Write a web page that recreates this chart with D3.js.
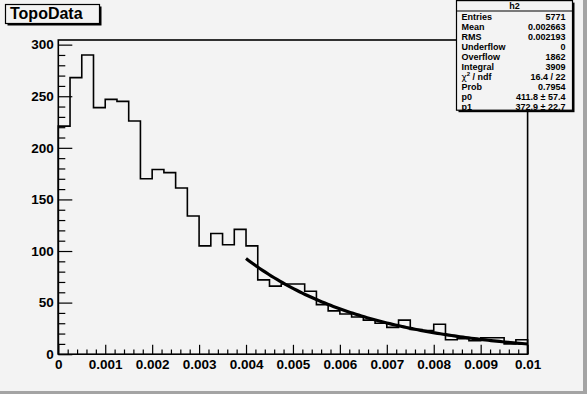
<!DOCTYPE html>
<html>
<head>
<meta charset="utf-8">
<script src="https://cdn.jsdelivr.net/npm/d3@7/dist/d3.min.js"></script>
<style>
  html, body { margin: 0; padding: 0; background: #f3f3f3; }
  svg { display: block; }
  text { font-family: "Liberation Sans", Arial, Helvetica, sans-serif; font-weight: bold; fill: #000; }
</style>
</head>
<body>
<svg id="c" width="587" height="394"></svg>
<script>
// ---- data ----
const binLow = 0, binHigh = 0.01, nBins = 40;
const binCounts = [221, 268, 290, 239, 247, 245, 226, 170, 179, 176,
                   161, 134, 105, 117, 106, 121, 105, 72, 66, 68,
                   68, 61, 48, 42, 39, 36, 33, 30, 26, 33,
                   24, 23, 29, 14, 15, 13, 16, 16, 10, 14];
const xTickValues = [0, 0.001, 0.002, 0.003, 0.004, 0.005, 0.006, 0.007, 0.008, 0.009, 0.01];
const yTickValues = [0, 50, 100, 150, 200, 250, 300];
const statLabels = ["Entries", "Mean", "RMS", "Underflow", "Overflow", "Integral", "chi2", "Prob", "p0", "p1"];
const statValues = ["5771", "0.002663", "0.002193", "0", "1862", "3909", "16.4 / 22", "0.7954", "411.8 \u00b1 57.4", "372.9 \u00b1 22.7"];
// fit function p0*exp(-p1*x) over [fitLow, fitHigh], parameters from the stats box
const fitParams = [411.8, 372.9];
const fitRange = [0.004, 0.01];
const histTitle = "TopoData", histName = "h2";

// ---- layout ----
const svg = d3.select("#c");
const W = 587, H = 394;
const fx0 = 58.3, fx1 = 527.6, fy0 = 40, fy1 = 354.2;
const bg = "#f3f3f3";

svg.append("rect").attr("x", 0).attr("y", 0).attr("width", W).attr("height", H).attr("fill", bg);
// canvas bevel (right / bottom)
svg.append("rect").attr("x", W - 4).attr("y", 0).attr("width", 4).attr("height", H).attr("fill", "#a4a4a4");
svg.append("rect").attr("x", 0).attr("y", H - 3).attr("width", W).attr("height", 3).attr("fill", "#a4a4a4");

const x = d3.scaleLinear().domain([binLow, binHigh]).range([fx0, fx1]);
const ymax = d3.max(binCounts) * 1.05;
const y = d3.scaleLinear().domain([0, ymax]).range([fy1, fy0]);

const binW = (binHigh - binLow) / nBins;

// histogram step path
const pts = [[binLow, 0]];
binCounts.forEach((v, i) => pts.push([binLow + i * binW, v]));
pts.push([binHigh, binCounts[binCounts.length - 1]]);
pts.push([binHigh, 0]);
const stepLine = d3.line().x(d => x(d[0])).y(d => y(d[1])).curve(d3.curveStepAfter);
svg.append("path").attr("d", stepLine(pts)).attr("fill", "none")
   .attr("stroke", "#000").attr("stroke-width", 1.6);

// fit curve
const fitPts = d3.range(0, 101).map(k => {
  const xv = fitRange[0] + (fitRange[1] - fitRange[0]) * k / 100;
  return [xv, fitParams[0] * Math.exp(-fitParams[1] * xv)];
});
svg.append("path").attr("d", d3.line().x(d => x(d[0])).y(d => y(d[1]))(fitPts))
   .attr("fill", "none").attr("stroke", "#000").attr("stroke-width", 3.2);

// axes
const xMinor = d3.range(0, 51).map(k => k * 0.0002).filter(v => !xTickValues.some(t => Math.abs(t - v) < 1e-9));
const yMinor = d3.range(0, 31).map(k => k * 10).filter(v => v % 50 !== 0 && v <= ymax);

const gx = svg.append("g").attr("transform", `translate(0,${fy1})`);
gx.append("g").call(d3.axisBottom(x).tickValues(xMinor).tickSize(-4.7).tickFormat("").tickSizeOuter(0));
gx.append("g").call(d3.axisBottom(x).tickValues(xTickValues).tickSize(-9.4).tickPadding(5)
   .tickFormat(d => d3.format(".3~f")(d)).tickSizeOuter(0));
const gy = svg.append("g").attr("transform", `translate(${fx0},0)`);
gy.append("g").call(d3.axisLeft(y).tickValues(yMinor).tickSize(-7).tickFormat("").tickSizeOuter(0));
gy.append("g").call(d3.axisLeft(y).tickValues(yTickValues).tickSize(-14).tickPadding(4.5).tickSizeOuter(0));

svg.selectAll(".domain").remove();
svg.selectAll(".tick line").attr("stroke", "#000").attr("stroke-width", 1.2);
svg.selectAll(".tick text").attr("font-size", 13.5).attr("font-weight", "bold")
   .attr("font-family", "Liberation Sans, Arial, sans-serif").attr("fill", "#000");

// frame
svg.append("rect").attr("x", fx0).attr("y", fy0).attr("width", fx1 - fx0).attr("height", fy1 - fy0)
   .attr("fill", "none").attr("stroke", "#000").attr("stroke-width", 1.6);

// title box
function paveBox(x0, y0, x1, y1) {
  svg.append("rect").attr("x", x0 + 2).attr("y", y0 + 2).attr("width", x1 - x0).attr("height", y1 - y0).attr("fill", "#000");
  svg.append("rect").attr("x", x0).attr("y", y0).attr("width", x1 - x0).attr("height", y1 - y0)
     .attr("fill", bg).attr("stroke", "#000").attr("stroke-width", 1.2);
}
paveBox(5.5, 4.5, 99.5, 23.5);
svg.append("text").attr("x", 10).attr("y", 19).attr("font-size", 16).text(histTitle);

// stats box
const sx0 = 456.5, sx1 = 572.5, sy0 = 0.6, sy1 = 110.2;
paveBox(sx0, sy0, sx1, sy1);
svg.append("line").attr("x1", sx0).attr("x2", sx1).attr("y1", 11).attr("y2", 11).attr("stroke", "#000").attr("stroke-width", 1.2);
svg.append("text").attr("x", (sx0 + sx1) / 2).attr("y", 9).attr("text-anchor", "middle").attr("font-size", 9).text(histName);
statLabels.forEach((lab, i) => {
  const by = 19.5 + i * 10;
  const t = svg.append("text").attr("x", 461.5).attr("y", by).attr("font-size", 9);
  if (lab === "chi2") {
    t.append("tspan").attr("font-family", "DejaVu Sans").attr("font-weight", "normal").text("\u03c7");
    t.append("tspan").attr("font-size", 6).attr("dy", -3.5).text("2");
    t.append("tspan").attr("dy", 3.5).text(" / ndf");
  } else {
    t.text(lab);
  }
  svg.append("text").attr("x", 565.5).attr("y", by).attr("text-anchor", "end").attr("font-size", 9).text(statValues[i]);
});
</script>
</body>
</html>
